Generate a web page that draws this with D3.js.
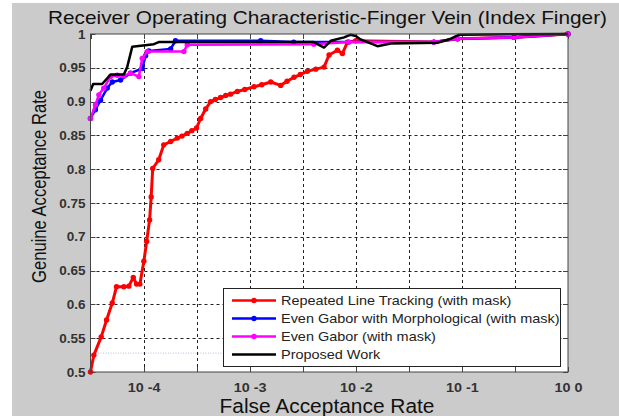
<!DOCTYPE html>
<html><head><meta charset="utf-8">
<script src="https://cdn.jsdelivr.net/npm/d3@7"></script>
<style>
html,body{margin:0;padding:0;background:#fff;}
svg{display:block;font-family:"Liberation Sans",Arial,sans-serif;}
</style></head>
<body>
<svg id="chart" width="619" height="416"></svg>
<script>
// ---- data (FAR values, GAR values) ----
const titleText = "Receiver Operating Characteristic-Finger Vein (Index Finger)";
const xLabel = "False Acceptance Rate";
const yLabel = "Genuine Acceptance Rate";

const xTickExp = [-4.5,-4,-3.5,-3,-2.5,-2,-1.5,-1,-0.5,0];
const xTickLabels = ["","10 -4","","10 -3","","10 -2","","10 -1","","10 0"];
const yTicks = [0.5,0.55,0.6,0.65,0.7,0.75,0.8,0.85,0.9,0.95,1];
const yTickLabels = ["0.5","0.55","0.6","0.65","0.7","0.75","0.8","0.85","0.9","0.95","1"];

const seriesNames = ["Repeated Line Tracking (with mask)","Even Gabor with Morphological (with mask)","Even Gabor (with mask)","Proposed Work"];

const redFAR = [3.16e-5,3.40e-5,3.99e-5,4.48e-5,5.07e-5,5.56e-5,6.52e-5,7.27e-5,8.0e-5,8.59e-5,9.23e-5,1.007e-4,1.07e-4,1.14e-4,1.18e-4,1.22e-4,1.39e-4,1.55e-4,1.8e-4,2.08e-4,2.3e-4,2.58e-4,2.85e-4,3.16e-4,3.45e-4,3.85e-4,4.29e-4,4.75e-4,5.32e-4,5.95e-4,6.6e-4,7.65e-4,9.0e-4,1.10e-3,1.3e-3,1.58e-3,1.96e-3,2.25e-3,2.62e-3,3.0e-3,3.50e-3,4.2e-3,5.02e-3,5.60e-3,6.71e-3,7.48e-3,8.35e-3,0.01,0.0545,0.091,0.31,1];
const redGAR = [0.5,0.525,0.552,0.577,0.602,0.626,0.626,0.627,0.64,0.63,0.63,0.664,0.693,0.725,0.759,0.801,0.814,0.836,0.841,0.846,0.849,0.853,0.857,0.861,0.875,0.889,0.900,0.903,0.906,0.909,0.911,0.915,0.918,0.922,0.925,0.929,0.924,0.93,0.936,0.94,0.945,0.948,0.951,0.969,0.976,0.971,0.988,0.99,0.988,0.993,0.995,1.0];

const blueFAR = [3.16e-5,3.52e-5,3.93e-5,4.55e-5,5.07e-5,6.07e-5,7.53e-5,9.72e-5,1.045e-4,1.12e-4,1.80e-4,2.0e-4,1.27e-3,2.6e-3,8.59e-3,0.0545,0.091,0.31,1];
const blueGAR = [0.875,0.888,0.902,0.92,0.929,0.932,0.942,0.949,0.968,0.975,0.978,0.99,0.99,0.988,0.988,0.988,0.993,0.995,1.0];

const magFAR = [3.16e-5,3.52e-5,3.79e-5,4.22e-5,4.88e-5,5.65e-5,6.52e-5,7.53e-5,9.03e-5,9.72e-5,1.08e-4,2.40e-4,2.58e-4,4.02e-3,8.59e-3,0.0545,0.091,0.31,1];
const magGAR = [0.875,0.895,0.91,0.92,0.937,0.939,0.938,0.942,0.937,0.964,0.974,0.974,0.984,0.985,0.988,0.988,0.993,0.995,1.0];

const blackFAR = [3.16e-5,3.35e-5,4.07e-5,4.88e-5,6.52e-5,7.01e-5,7.82e-5,1.25e-4,1.39e-4,4.02e-3,5.02e-3,5.81e-3,7.76e-3,8.97e-3,0.01,0.0111,0.0160,0.0214,0.059,0.0787,0.0944,1];
const blackGAR = [0.916,0.926,0.926,0.94,0.94,0.951,0.981,0.985,0.988,0.988,0.980,0.990,0.995,0.999,0.997,0.992,0.982,0.986,0.987,0.993,0.999,1.0];

// faint dotted trace near the bottom
const faintFAR = [3.16e-5,5.7e-4];
const faintGAR = [0.528,0.528];

const colors = ["#ff0000","#0000ff","#ff00ff","#000000"];

// ---- layout ----
const svg = d3.select("#chart");
const W = 619, H = 416;
const m = {left:90.5, right:568, top:34, bottom:372};

svg.append("rect").attr("x",12).attr("y",3).attr("width",W-12).attr("height",H-3).attr("fill","#cbcbcb");
svg.append("rect").attr("x",m.left).attr("y",m.top).attr("width",m.right-m.left).attr("height",m.bottom-m.top).attr("fill","#fff");

const x = d3.scaleLog().domain([Math.pow(10,-4.5),1]).range([m.left,m.right]);
const y = d3.scaleLinear().domain([0.5,1]).range([m.bottom,m.top]);

const xTickVals = xTickExp.map(e=>Math.pow(10,e));

function stretch(sel, k){
  sel.each(function(){
    const L = this.getComputedTextLength();
    if(L>0) d3.select(this).attr("textLength",L*k).attr("lengthAdjust","spacingAndGlyphs");
  });
}

// grid
const grid = svg.append("g").attr("stroke","#222").attr("stroke-width",1).attr("stroke-dasharray","3,3");
xTickVals.slice(1,-1).forEach(v=>{
  grid.append("line").attr("x1",Math.round(x(v))+0.5).attr("x2",Math.round(x(v))+0.5).attr("y1",m.top).attr("y2",m.bottom);
});
yTicks.slice(1,-1).forEach(v=>{
  grid.append("line").attr("y1",Math.round(y(v))+0.5).attr("y2",Math.round(y(v))+0.5).attr("x1",m.left).attr("x2",m.right);
});

// axes
const xAxis = d3.axisBottom(x).tickValues(xTickVals).tickFormat((d,i)=>xTickLabels[i]).tickSize(0).tickPadding(0);
const gx = svg.append("g").attr("transform",`translate(0,${m.bottom})`).call(xAxis);
gx.select(".domain").remove();
gx.selectAll("text").attr("dy",null).attr("y",20).attr("font-size",12.5).attr("fill","#333").attr("font-family","Liberation Sans, Arial").attr("font-weight","bold");
stretch(gx.selectAll("text"), 1.15);

const yAxis = d3.axisLeft(y).tickValues(yTicks).tickFormat((d,i)=>yTickLabels[i]).tickSize(0).tickPadding(5);
const gy = svg.append("g").attr("transform",`translate(${m.left},0)`).call(yAxis);
gy.select(".domain").remove();
gy.selectAll("text").attr("font-size",12.5).attr("fill","#333").attr("font-family","Liberation Sans, Arial").attr("font-weight","bold");
stretch(gy.selectAll("text"), 1.08);

// tick marks (inside, all four sides)
const tk = svg.append("g").attr("stroke","#444").attr("stroke-width",1);
xTickVals.forEach(v=>{
  const px = Math.round(x(v))+0.5;
  tk.append("line").attr("x1",px).attr("x2",px).attr("y1",m.bottom).attr("y2",m.bottom-5);
  tk.append("line").attr("x1",px).attr("x2",px).attr("y1",m.top).attr("y2",m.top+5);
});
yTicks.forEach(v=>{
  const py = Math.round(y(v))+0.5;
  tk.append("line").attr("x1",m.left).attr("x2",m.left+5).attr("y1",py).attr("y2",py);
  tk.append("line").attr("x1",m.right).attr("x2",m.right-5).attr("y1",py).attr("y2",py);
});

// faint dotted trace
const faintPts = faintFAR.map((f,i)=>[f,faintGAR[i]]);
const fl = d3.line().x(d=>x(d[0])).y(d=>y(d[1]));
svg.append("path").datum(faintPts).attr("d",fl)
  .attr("fill","none").attr("stroke","#e9a0e9").attr("stroke-width",1.2).attr("stroke-dasharray","1,4").attr("opacity",0.8);
svg.append("path").datum(faintPts).attr("d",fl)
  .attr("fill","none").attr("stroke","#88dddd").attr("stroke-width",1.2).attr("stroke-dasharray","1,4").attr("stroke-dashoffset",2.5).attr("opacity",0.8);

// series
const series = [
  {fx:redFAR, gy:redGAR, c:colors[0], markers:true, w:3},
  {fx:blueFAR, gy:blueGAR, c:colors[1], markers:true, w:2.5},
  {fx:magFAR, gy:magGAR, c:colors[2], markers:true, w:2.5},
  {fx:blackFAR, gy:blackGAR, c:colors[3], markers:false, w:2.5}
];
const line = d3.line().x(d=>x(d[0])).y(d=>y(d[1]));
const plotG = svg.append("g");
series.forEach(s=>{
  const pts = s.fx.map((f,i)=>[f,s.gy[i]]);
  plotG.append("path").datum(pts).attr("d",line).attr("fill","none").attr("stroke",s.c).attr("stroke-width",s.w).attr("stroke-linejoin","round");
  if(s.markers){
    plotG.selectAll(null).data(pts).enter().append("circle")
      .attr("cx",d=>x(d[0])).attr("cy",d=>y(d[1])).attr("r",2.7).attr("fill",s.c);
  }
});

// axes box
svg.append("rect").attr("x",m.left).attr("y",m.top).attr("width",m.right-m.left).attr("height",m.bottom-m.top)
  .attr("fill","none").attr("stroke","#444").attr("stroke-width",1);

// legend
const lg = svg.append("g");
const L = {x:223, y:288, w:337, h:78};
lg.append("rect").attr("x",L.x+0.5).attr("y",L.y+0.5).attr("width",L.w).attr("height",L.h).attr("fill","#fff").attr("stroke","#222").attr("stroke-width",1);
seriesNames.forEach((n,i)=>{
  const cy = L.y + 12.5 + i*18;
  lg.append("line").attr("x1",L.x+9).attr("x2",L.x+53).attr("y1",cy).attr("y2",cy).attr("stroke",colors[i]).attr("stroke-width",2.5);
  if(i<3) lg.append("circle").attr("cx",L.x+31).attr("cy",cy).attr("r",2.7).attr("fill",colors[i]);
  const t = lg.append("text").attr("x",L.x+58).attr("y",cy+4.5).attr("font-size",13.5).attr("fill","#222").text(n);
  stretch(t, 1.07);
});

// titles
const tt = svg.append("text").attr("x",327.5).attr("y",24).attr("text-anchor","middle").attr("font-size",18.5).attr("fill","#111").text(titleText);
stretch(tt, 559/ tt.node().getComputedTextLength() );
const xl = svg.append("text").attr("x",327).attr("y",413).attr("text-anchor","middle").attr("font-size",20).attr("fill","#111").text(xLabel);
stretch(xl, 215/ xl.node().getComputedTextLength());
const yl = svg.append("text").attr("transform","translate(46,186.5) rotate(-90)").attr("text-anchor","middle").attr("font-size",20).attr("fill","#111").text(yLabel);
stretch(yl, 193/ yl.node().getComputedTextLength());
</script>
</body></html>
